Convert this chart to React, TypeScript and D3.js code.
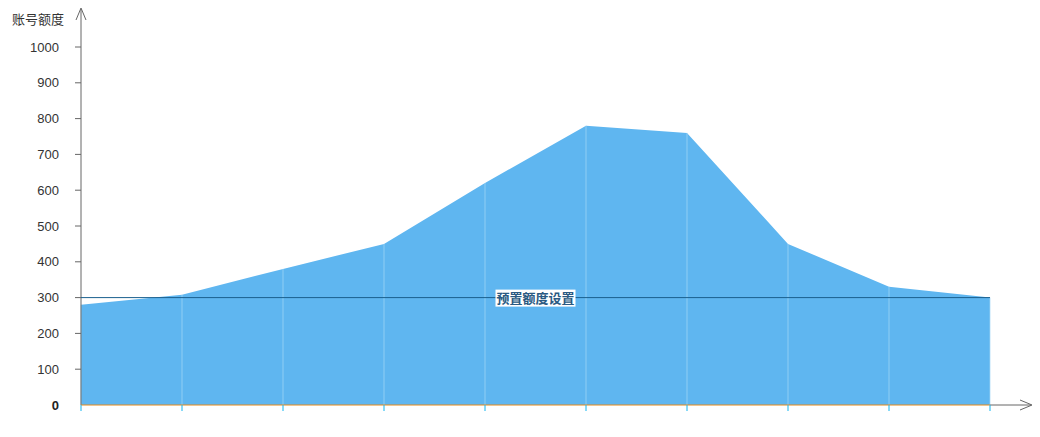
import React from "react";
import * as d3 from "d3";

const categories = ["1", "2", "3", "4", "5", "6", "7", "8", "9", "10"];
const values = [280, 308, 380, 450, 620, 780, 760, 450, 330, 300];
const yTicks = [0, 100, 200, 300, 400, 500, 600, 700, 800, 900, 1000];
const markValue = 300;
const markLabel = "预置额度设置";
const yTitle = "账号额度";

export default function App() {
  const W = 1040, H = 437;
  const left = 81, right = 990, top = 47, bottom = 405;
  const x = d3.scalePoint<string>().domain(categories).range([left, right]);
  const y = d3.scaleLinear().domain([0, 1000]).range([bottom, top]);
  const area = d3
    .area<number>()
    .x((_, i) => x(categories[i])!)
    .y0(y(0))
    .y1((d) => y(d));
  const font = "'Liberation Sans', Arial, sans-serif";
  const my = y(markValue);
  const mid = (left + right) / 2;
  return (
    <svg width={W} height={H} style={{ position: "absolute", left: 0, top: 0 }} fontFamily={font}>
      <path d={area(values)!} fill="#5fb6f0" />
      {categories.map((c, i) => (
        <line key={c} x1={x(c)} x2={x(c)} y1={y(values[i])} y2={bottom} stroke="#a6d8f7" strokeOpacity={0.7} strokeWidth={1} />
      ))}
      {/* y axis */}
      <line x1={left} x2={left} y1={bottom} y2={9} stroke="#666" strokeWidth={1} />
      <path d={`M${left - 5},${20} L${left},${8} L${left + 5},${20}`} fill="none" stroke="#666" strokeWidth={1} />
      {yTicks.map((t) => (
        <g key={t}>
          {t !== 0 && <line x1={left - 6} x2={left} y1={y(t)} y2={y(t)} stroke="#666" />}
          <text
            x={59}
            y={y(t)}
            dy="0.35em"
            textAnchor="end"
            fontSize={13}
            fill={t === 0 ? "#222" : "#333"}
            fontWeight={t === 0 ? "bold" : "normal"}
          >
            {t}
          </text>
        </g>
      ))}
      <text x={38} y={19} dy="0.35em" textAnchor="middle" fontSize={13} fill="#333" fontFamily="'Noto Sans CJK SC', sans-serif">
        {yTitle}
      </text>
      {/* x axis */}
      <line x1={right} x2={1031} y1={bottom} y2={bottom} stroke="#666" />
      <path d={`M${1020},${400} L${1032},${bottom} L${1020},${410}`} fill="none" stroke="#666" />
      <line x1={left} x2={right} y1={bottom} y2={bottom} stroke="#e68a1a" strokeWidth={1} />
      {categories.map((c) => (
        <line key={c} x1={x(c)} x2={x(c)} y1={bottom} y2={bottom + 6} stroke="#10b4f0" strokeWidth={1} />
      ))}
      {/* mark line */}
      <line x1={left} x2={right} y1={my} y2={my} stroke="#1a5f8e" strokeWidth={1} />
      <rect x={mid - 40} y={my - 8} width={80} height={17} fill="#fff" />
      <text x={mid} y={my + 1} dy="0.35em" textAnchor="middle" fontSize={13} fontWeight={700} fill="#2a5a82" fontFamily="'Noto Sans CJK SC', sans-serif">
        {markLabel}
      </text>
    </svg>
  );
}
